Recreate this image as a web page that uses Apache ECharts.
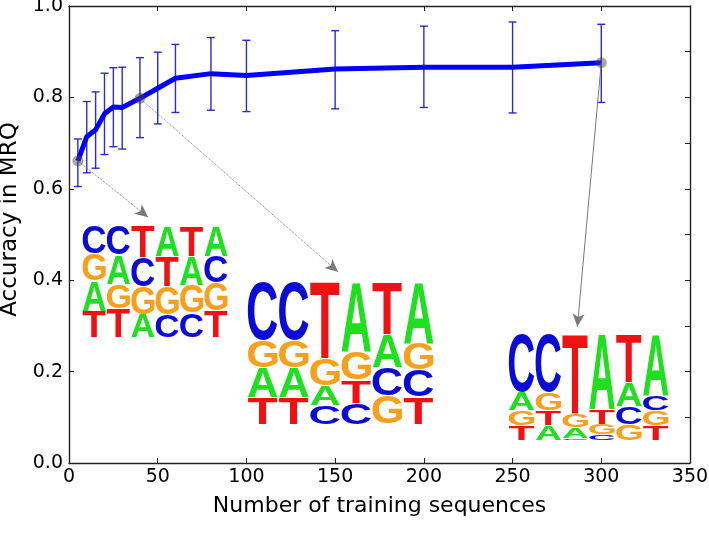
<!DOCTYPE html>
<html><head><meta charset="utf-8">
<script src="https://cdn.jsdelivr.net/npm/echarts@6/dist/echarts.min.js"></script>
<style>html,body{margin:0;padding:0;background:#fff}#c{width:709px;height:539px}</style>
</head><body><div id="c"></div>
<script>
// ---------- data ----------
const trainingSizes = [5, 10, 15, 20, 25, 30, 40, 50, 60, 80, 100, 150, 200, 250, 300];
const accuracyMean  = [0.661, 0.714, 0.729, 0.764, 0.779, 0.778, 0.798, 0.820, 0.842, 0.852, 0.848, 0.862, 0.866, 0.866, 0.876];
const accuracyLow   = [0.605, 0.635, 0.645, 0.675, 0.692, 0.687, 0.712, 0.742, 0.767, 0.772, 0.769, 0.775, 0.778, 0.766, 0.789];
const accuracyHigh  = [0.709, 0.791, 0.812, 0.853, 0.865, 0.866, 0.887, 0.899, 0.916, 0.931, 0.925, 0.946, 0.956, 0.965, 0.960];
const highlightedSizes = [5, 40, 300];
const xTickValues = [0, 50, 100, 150, 200, 250, 300, 350];
const yTickValues = [0.0, 0.2, 0.4, 0.6, 0.8, 1.0];
const xAxisTitle = 'Number of training sequences';
const yAxisTitle = 'Accuracy in MRQ';

// sequence logos: letters per column from top to bottom, with their frequencies
const logo1Letters = [['C','G','A','T'], ['C','A','G','T'], ['T','C','G','A'], ['A','T','G','C'], ['T','A','G','C'], ['A','C','G','T']];
const logo1Freqs   = [[0.25,0.24,0.27,0.24], [0.26,0.26,0.22,0.26], [0.28,0.26,0.25,0.21], [0.27,0.27,0.25,0.21], [0.27,0.26,0.25,0.22], [0.27,0.24,0.25,0.24]];
const logo2Letters = [['C','G','A','T'], ['C','G','A','T'], ['T','G','A','C'], ['A','G','T','C'], ['T','A','C','G'], ['A','G','C','T']];
const logo2Freqs   = [[0.41,0.19,0.21,0.19], [0.41,0.19,0.21,0.19], [0.54,0.19,0.14,0.13], [0.49,0.20,0.16,0.15], [0.37,0.23,0.20,0.20], [0.43,0.19,0.19,0.19]];
const logo3Letters = [['C','A','G','T'], ['C','G','T','A'], ['T','G','A','C'], ['A','T','G','C'], ['T','A','C','G'], ['A','C','G','T']];
const logo3Freqs   = [[0.55,0.17,0.14,0.14], [0.55,0.17,0.14,0.14], [0.75,0.13,0.10,0.02], [0.71,0.14,0.10,0.05], [0.46,0.22,0.17,0.15], [0.58,0.14,0.14,0.14]];

// ---------- layout config (data coordinates of logo boxes and arrow tips) ----------
const logoBoxes = [
  { x0: 7.3,   x1: 89.7,  yTop: 0.519, yBottom: 0.274 },
  { x0: 100.4, x1: 205.8, yTop: 0.396, yBottom: 0.085 },
  { x0: 247.5, x1: 338.3, yTop: 0.284, yBottom: 0.050 }
];
const arrowTips = [[44.6, 0.538], [151.7, 0.418], [286.5, 0.298]];
const arrowDash = ['dotted', 'dotted', 'solid'];

const baseColors = { A: '#1fe01f', C: '#0b0bd6', G: '#f7a01c', T: '#f01212' };
const LOGO_FONT_FAMILY = '"Liberation Sans"';
const mctx = document.createElement('canvas').getContext('2d');
const glyphCache = {};
function glyphBox(ch) {
  if (glyphCache[ch]) return glyphCache[ch];
  mctx.font = 'bold 100px ' + LOGO_FONT_FAMILY;
  mctx.textAlign = 'center';
  mctx.textBaseline = 'middle';
  const m = mctx.measureText(ch);
  return (glyphCache[ch] = { l: m.actualBoundingBoxLeft, r: m.actualBoundingBoxRight, a: m.actualBoundingBoxAscent, d: m.actualBoundingBoxDescent });
}

const logos = [
  { letters: logo1Letters, freqs: logo1Freqs },
  { letters: logo2Letters, freqs: logo2Freqs },
  { letters: logo3Letters, freqs: logo3Freqs }
];

const chart = echarts.init(document.getElementById('c'), null, { renderer: 'canvas' });
const FONT = 'DejaVu Sans';
const FRAME = '#222';

const meanData = trainingSizes.map((x, i) => [x, accuracyMean[i]]);
const errData = trainingSizes.map((x, i) => [x, accuracyLow[i], accuracyHigh[i]]);
const markData = highlightedSizes.map(x => [x, accuracyMean[trainingSizes.indexOf(x)]]);
const logoData = logoBoxes.map(b => [b.x0, b.yTop, b.x1, b.yBottom]);

const arrowLines = markData.map((p, i) => [
  { coord: p, lineStyle: { type: arrowDash[i], color: '#7a7a7a', width: 1 } },
  { coord: arrowTips[i] }
]);

const option = {
  animation: false,
  backgroundColor: '#fff',
  grid: { left: 69, right: 19, top: 6, bottom: 76, containLabel: false, outerBoundsMode: 'none' },
  xAxis: [
    {
      type: 'value', position: 'bottom', min: 0, max: 350, interval: 50,
      name: xAxisTitle, nameLocation: 'middle', nameGap: 32,
      nameTextStyle: { fontFamily: FONT, fontSize: 22, color: '#000' },
      axisLine: { show: true, onZero: false, lineStyle: { color: FRAME, width: 1.4 } },
      axisTick: { show: true, inside: true, length: 5, lineStyle: { color: FRAME } },
      axisLabel: { show: true, margin: 5, fontFamily: FONT, fontSize: 19, color: '#000',
        customValues: xTickValues, formatter: v => String(v) },
      splitLine: { show: false }
    },
    {
      type: 'value', position: 'top', min: 0, max: 350, interval: 50,
      axisLine: { show: true, onZero: false, lineStyle: { color: FRAME, width: 1.4 } },
      axisTick: { show: true, inside: true, length: 5, lineStyle: { color: FRAME } },
      axisLabel: { show: false }, splitLine: { show: false }
    }
  ],
  yAxis: [
    {
      type: 'value', position: 'left', min: 0, max: 1, interval: 0.2,
      name: yAxisTitle, nameLocation: 'middle', nameGap: 44, nameRotate: 90,
      nameTextStyle: { fontFamily: FONT, fontSize: 23, color: '#000', padding: [0, 0, 0, 30] },
      axisLine: { show: true, onZero: false, lineStyle: { color: FRAME, width: 1.4 } },
      axisTick: { show: true, inside: true, length: 5, lineStyle: { color: FRAME } },
      axisLabel: { show: true, margin: 6, fontFamily: FONT, fontSize: 19, color: '#000',
        customValues: yTickValues, formatter: v => v.toFixed(1) },
      splitLine: { show: false }
    },
    {
      type: 'value', position: 'right', min: 0, max: 1, interval: 0.1,
      axisLine: { show: true, onZero: false, lineStyle: { color: FRAME, width: 1.4 } },
      axisTick: { show: true, inside: true, length: 5, lineStyle: { color: FRAME } },
      axisLabel: { show: false }, splitLine: { show: false }
    }
  ],
  series: [
    {
      type: 'custom', name: 'logos', xAxisIndex: 0, yAxisIndex: 0, z: 1, silent: true,
      data: logoData, encode: { x: [0, 2], y: [1, 3] },
      renderItem: function (params, api) {
        const logo = logos[params.dataIndex];
        const p0 = api.coord([api.value(0), api.value(1)]);
        const p1 = api.coord([api.value(2), api.value(3)]);
        const nCols = logo.letters.length;
        const colW = (p1[0] - p0[0]) / nCols;
        const totalH = p1[1] - p0[1];
        const children = [];
        for (let c = 0; c < nCols; c++) {
          const cx = p0[0] + colW * (c + 0.5);
          const w = colW * 0.95;
          let y = p0[1];
          const fr = logo.freqs[c];
          const sum = fr.reduce((a, b) => a + b, 0);
          for (let j = 0; j < logo.letters[c].length; j++) {
            const ch = logo.letters[c][j];
            const h = totalH * fr[j] / sum;
            const yt = y, yb = y + h;
            y = yb;
            if (h < 1) continue;
            const g = glyphBox(ch);
            const sx = w / (g.l + g.r);
            const sy = (h - 0.6) / (g.a + g.d);
            const xc = (g.r - g.l) / 2, yc = (g.d - g.a) / 2;
            children.push({
              type: 'text',
              x: cx - sx * xc,
              y: (yt + yb) / 2 - sy * yc,
              scaleX: sx, scaleY: sy,
              style: {
                text: ch, fill: baseColors[ch],
                fontSize: 100, fontWeight: 'bold', fontFamily: LOGO_FONT_FAMILY,
                align: 'center', verticalAlign: 'middle'
              }
            });
          }
        }
        return { type: 'group', children: children };
      }
    },
    {
      type: 'custom', name: 'error bars', xAxisIndex: 0, yAxisIndex: 0, z: 3, silent: true,
      data: errData, encode: { x: 0, y: [1, 2] },
      renderItem: function (params, api) {
        const lo = api.coord([api.value(0), api.value(1)]);
        const hi = api.coord([api.value(0), api.value(2)]);
        const cap = 4;
        const st = { stroke: 'rgba(20,20,215,0.9)', lineWidth: 1.4 };
        return {
          type: 'group',
          children: [
            { type: 'line', shape: { x1: lo[0], y1: lo[1], x2: hi[0], y2: hi[1] }, style: st },
            { type: 'line', shape: { x1: lo[0] - cap, y1: lo[1], x2: lo[0] + cap, y2: lo[1] }, style: st },
            { type: 'line', shape: { x1: hi[0] - cap, y1: hi[1], x2: hi[0] + cap, y2: hi[1] }, style: st }
          ]
        };
      }
    },
    {
      type: 'line', name: 'accuracy', xAxisIndex: 0, yAxisIndex: 0, z: 4, silent: true,
      data: meanData, showSymbol: false, symbol: 'none',
      lineStyle: { color: '#0000ff', width: 5 }
    },
    {
      type: 'scatter', name: 'highlighted', xAxisIndex: 0, yAxisIndex: 0, z: 5, silent: true,
      data: markData, symbol: 'circle', symbolSize: 11,
      itemStyle: { color: 'rgba(70,70,70,0.6)' },
      markLine: {
        silent: true, animation: false,
        symbol: ['none', 'arrow'], symbolSize: [9, 13],
        label: { show: false },
        emphasis: { disabled: true },
        itemStyle: { color: '#7a7a7a' },
        lineStyle: { color: '#7a7a7a', width: 1 },
        data: arrowLines
      }
    }
  ]
};
chart.setOption(option);
</script>
</body></html>
